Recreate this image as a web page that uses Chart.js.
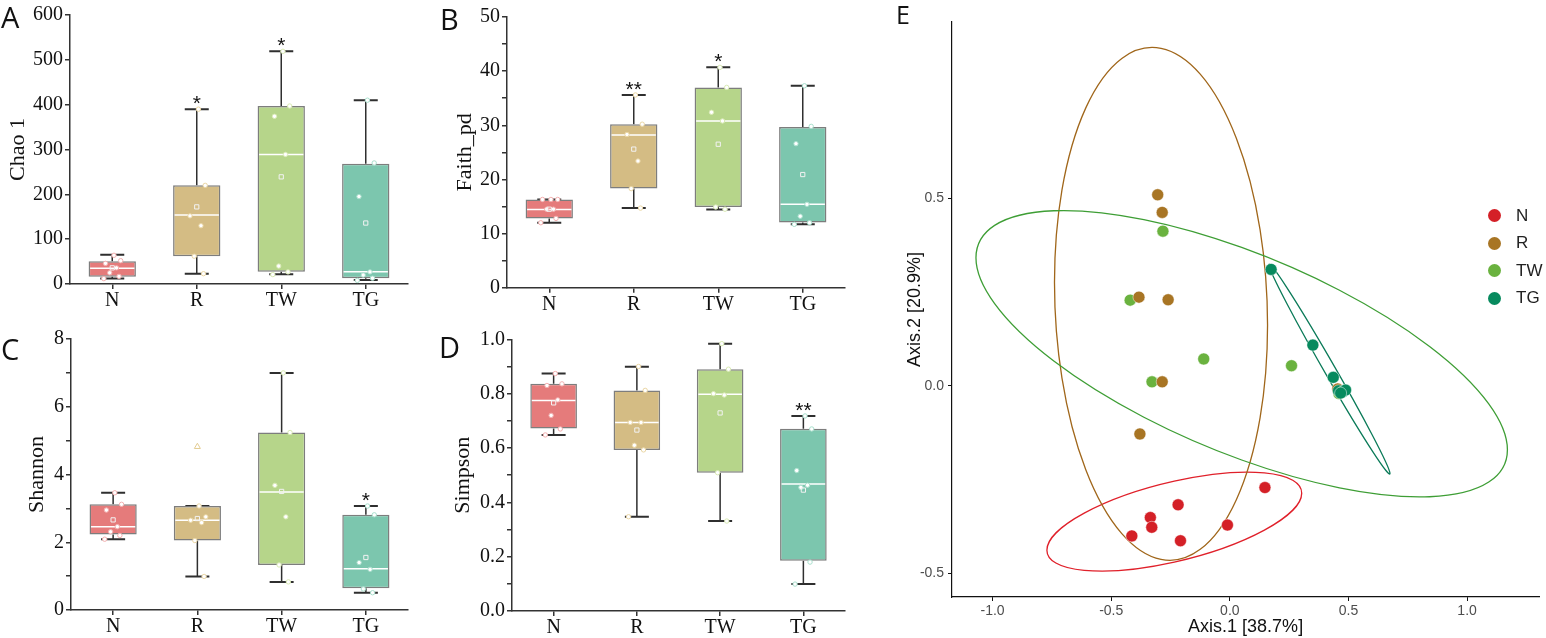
<!DOCTYPE html>
<html>
<head>
<meta charset="utf-8">
<title>Alpha diversity and PCoA</title>
<script src="https://cdn.jsdelivr.net/npm/chart.js@4.4.1/dist/chart.umd.min.js"></script>
<style>
  html, body { margin: 0; padding: 0; background: #fff; }
  body { width: 1546px; height: 638px; position: relative; overflow: hidden; }
  canvas { position: absolute; }
  .tag { position: absolute; font-family: 'Open Sans', sans-serif; font-size: 29px; line-height: 1; color: #111; }
  .legend { position: absolute; left: 1488px; top: 202px; font-family: 'Liberation Sans', Arial, sans-serif; font-size: 17px; color: #222; }
  .legend div { height: 27.5px; display: flex; align-items: center; }
  .legend .dot { width: 13px; height: 13px; border-radius: 50%; margin-right: 15px; }
</style>
</head>
<body>
<canvas id="panel-a" width="420" height="310" style="left:0;top:0"></canvas>
<canvas id="panel-b" width="430" height="310" style="left:420px;top:0"></canvas>
<canvas id="panel-c" width="420" height="328" style="left:0;top:310px"></canvas>
<canvas id="panel-d" width="430" height="328" style="left:420px;top:310px"></canvas>
<canvas id="panel-e" width="666" height="638" style="left:880px;top:0"></canvas>

<div class="tag" style="left:1px;top:2px">A</div>
<div class="tag" style="left:440px;top:4px">B</div>
<div class="tag" style="left:1px;top:334px">C</div>
<div class="tag" style="left:439px;top:332px">D</div>
<div class="tag" style="left:896px;top:2px;font-size:25px">E</div>
<div class="legend" id="legend-e"></div>

<script>
const GROUPS = ['N', 'R', 'TW', 'TG'];
const BOX_COLORS = ['#E57B7B', '#D4BC84', '#B6D58A', '#7CC6AE'];
const POINT_COLORS = ['#F3AFAF', '#EAD6A4', '#D9EAB4', '#A9DFCD'];
const JITTER = [0.02, 0.1, -0.08, 0.05, -0.03, 0.08, -0.1];

// A: Chao 1
const CHAO_MIN = [12, 23, 21.5, 9];
const CHAO_Q1 = [16, 62, 27.5, 13];
const CHAO_MEDIAN = [35, 154, 289, 27.5];
const CHAO_Q3 = [51, 220, 397, 268];
const CHAO_MAX = [65, 390, 519, 410];
const CHAO_MEAN = [36, 172, 239, 136];
const CHAO_POINTS = [
  [64, 52, 46, 36, 25, 17, 12],
  [390, 220, 152, 130, 62, 23],
  [519, 397, 374, 289, 40, 27, 21],
  [410, 270, 195, 27, 20, 13, 8],
];
const CHAO_SIG = ['', '*', '*', ''];
const CHAO_TICKS = [0, 100, 200, 300, 400, 500, 600];

// B: Faith_pd
const FAITH_MIN = [12.0, 14.7, 14.45, 11.7];
const FAITH_Q1 = [12.8, 18.3, 14.9, 12.05];
const FAITH_MEDIAN = [14.45, 28.2, 30.8, 15.4];
const FAITH_Q3 = [16.3, 30.2, 37.0, 29.7];
const FAITH_MAX = [16.3, 35.6, 40.7, 37.3];
const FAITH_MEAN = [14.5, 25.6, 26.5, 20.9];
const FAITH_POINTS = [
  [16.3, 16.3, 16.3, 14.5, 14.5, 12.8, 12.0],
  [35.6, 30.2, 28.3, 23.4, 18.3, 14.7],
  [40.7, 37.0, 32.4, 30.8, 14.9, 14.5],
  [37.3, 29.8, 26.6, 15.4, 13.2, 12.0, 11.7],
];
const FAITH_SIG = ['', '**', '*', ''];
const FAITH_TICKS = [0, 10, 20, 30, 40, 50];

// C: Shannon
const SHANNON_MIN = [2.09, 0.99, 0.83, 0.51];
const SHANNON_Q1 = [2.23, 2.05, 1.33, 0.64];
const SHANNON_MEDIAN = [2.46, 2.65, 3.48, 1.22];
const SHANNON_Q3 = [3.12, 3.07, 5.24, 2.81];
const SHANNON_MAX = [3.46, 3.07, 7.0, 3.07];
const SHANNON_MEAN = [2.66, 2.7, 3.5, 1.55];
const SHANNON_POINTS = [
  [3.46, 3.12, 2.95, 2.46, 2.31, 2.2, 2.09],
  [3.07, 2.75, 2.65, 2.58, 2.05, 0.99],
  [7.0, 5.24, 3.68, 2.75, 1.33, 0.83],
  [3.07, 2.81, 1.4, 1.2, 0.62, 0.51],
];
const SHANNON_OUTLIERS = [null, 4.82, null, null];
const SHANNON_SIG = ['', '', '', '*'];
const SHANNON_TICKS = [0, 2, 4, 6, 8];

// D: Simpson
const SIMPSON_MIN = [0.648, 0.347, 0.331, 0.099];
const SIMPSON_Q1 = [0.672, 0.593, 0.509, 0.185];
const SIMPSON_MEDIAN = [0.775, 0.694, 0.798, 0.467];
const SIMPSON_Q3 = [0.836, 0.812, 0.89, 0.671];
const SIMPSON_MAX = [0.874, 0.899, 0.984, 0.718];
const SIMPSON_MEAN = [0.766, 0.666, 0.729, 0.445];
const SIMPSON_POINTS = [
  [0.874, 0.836, 0.83, 0.777, 0.72, 0.67, 0.648],
  [0.9, 0.812, 0.694, 0.694, 0.61, 0.593, 0.347],
  [0.984, 0.89, 0.8, 0.795, 0.509, 0.331],
  [0.718, 0.67, 0.517, 0.463, 0.455, 0.18, 0.099],
];
const SIMPSON_SIG = ['', '', '', '**'];
const SIMPSON_TICKS = [0, 0.2, 0.4, 0.6, 0.8, 1.0];

// E: PCoA
const PCOA_N = [[0.148, -0.271], [-0.218, -0.317], [-0.335, -0.351], [-0.329, -0.377], [-0.413, -0.4], [-0.208, -0.413], [-0.01, -0.371]];
const PCOA_R = [[-0.304, 0.51], [-0.285, 0.463], [-0.383, 0.237], [-0.26, 0.23], [-0.285, 0.011], [-0.379, -0.128], [0.455, -0.008]];
const PCOA_TW = [[-0.282, 0.413], [-0.42, 0.229], [-0.11, 0.072], [0.26, 0.054], [-0.328, 0.011], [0.46, -0.02]];
const PCOA_TG = [[0.174, 0.311], [0.35, 0.109], [0.436, 0.023], [0.458, -0.013], [0.475, -0.016], [0.488, -0.011], [0.467, -0.019]];
const PCOA_COLORS = ['#D42027', '#A87524', '#6AB23F', '#078A5E'];
const ELLIPSE_COLORS = ['#E0202A', '#A0661A', '#3E9E35', '#0A7A58'];
const ELLIPSE_CX = [-0.234, -0.29, 0.05, 0.42];
const ELLIPSE_CY = [-0.362, 0.219, 0.086, 0.045];
const ELLIPSE_HALF_W = [0.537, 0.449, 1.12, 0.255];
const ELLIPSE_HALF_H = [0.132, 0.684, 0.382, 0.28];
const ELLIPSE_RIGHT_Y = [0.076, -0.057, -0.256, -0.2784];
const PCOA_X_TICKS = [-1.0, -0.5, 0.0, 0.5, 1.0];
const PCOA_Y_TICKS = [-0.5, 0.0, 0.5];

const SERIF = "'Liberation Serif', 'Times New Roman', serif";
const SANS = "'Liberation Sans', Arial, sans-serif";
const AXIS_COLOR = '#333333';
const CAP_HALF = 12;

Chart.defaults.font.family = SERIF;
Chart.defaults.color = '#111';
Chart.defaults.animation = false;

function ticksWithMinor(majors) {
  const ticks = [];
  majors.forEach((v, i) => {
    ticks.push({ value: v });
    if (i < majors.length - 1) ticks.push({ value: (v + majors[i + 1]) / 2 });
  });
  return ticks;
}

function boxExtras(stats) {
  return {
    id: 'boxExtras',
    beforeDatasetsDraw(chart) {
      const { ctx, scales: { x, y } } = chart;
      ctx.save();
      ctx.strokeStyle = '#2f2f2f';
      GROUPS.forEach((_, g) => {
        const cx = x.getPixelForValue(g);
        const top = y.getPixelForValue(stats.max[g]);
        const bottom = y.getPixelForValue(stats.min[g]);
        ctx.lineWidth = 1.5;
        ctx.beginPath();
        ctx.moveTo(cx, top);
        ctx.lineTo(cx, y.getPixelForValue(stats.q3[g]));
        ctx.moveTo(cx, y.getPixelForValue(stats.q1[g]));
        ctx.lineTo(cx, bottom);
        ctx.stroke();
        ctx.lineWidth = 2;
        ctx.beginPath();
        ctx.moveTo(cx - CAP_HALF, top);
        ctx.lineTo(cx + CAP_HALF, top);
        ctx.moveTo(cx - CAP_HALF, bottom);
        ctx.lineTo(cx + CAP_HALF, bottom);
        ctx.stroke();
      });
      ctx.restore();
    },
    afterDatasetDraw(chart, args) {
      if (args.index !== 0) return;
      const { ctx, scales: { y } } = chart;
      ctx.save();
      ctx.strokeStyle = '#ffffff';
      ctx.lineWidth = 1.5;
      chart.getDatasetMeta(0).data.forEach((bar, g) => {
        const half = bar.width / 2 - 1.5;
        const py = y.getPixelForValue(stats.median[g]);
        ctx.beginPath();
        ctx.moveTo(bar.x - half, py);
        ctx.lineTo(bar.x + half, py);
        ctx.stroke();
      });
      ctx.restore();
    },
    afterDraw(chart) {
      const { ctx, scales: { x, y } } = chart;
      ctx.save();
      ctx.fillStyle = '#111';
      ctx.font = `21px ${SANS}`;
      ctx.textAlign = 'center';
      ctx.textBaseline = 'alphabetic';
      stats.sig.forEach((label, g) => {
        if (!label) return;
        ctx.fillText(label, x.getPixelForValue(g), y.getPixelForValue(stats.max[g]) + 1);
      });
      ctx.restore();
    },
  };
}

function boxPanel(canvasId, s) {
  const pointData = [];
  const pointBorders = [];
  s.points.forEach((vals, g) => {
    vals.forEach((v, k) => {
      pointData.push({ x: g + JITTER[k % JITTER.length], y: v });
      pointBorders.push(POINT_COLORS[g]);
    });
  });
  const datasets = [
    {
      type: 'bar',
      data: GROUPS.map((_, g) => ({ x: g, y: [s.q1[g], s.q3[g]] })),
      backgroundColor: BOX_COLORS,
      borderColor: '#7d7d7d',
      borderWidth: 1.5,
      borderSkipped: false,
      categoryPercentage: 1,
      barPercentage: 0.56,
      order: 3,
    },
    {
      type: 'scatter',
      data: pointData,
      pointRadius: 2.2,
      backgroundColor: '#ffffff',
      borderColor: pointBorders,
      borderWidth: 1,
      order: 1,
    },
    {
      type: 'scatter',
      data: s.mean.map((v, g) => ({ x: g, y: v })),
      pointStyle: 'rect',
      pointRadius: 3,
      backgroundColor: 'rgba(0,0,0,0)',
      borderColor: '#f2f2f2',
      borderWidth: 1,
      order: 0,
    },
  ];
  if (s.outliers) {
    datasets.push({
      type: 'scatter',
      data: s.outliers.map((v, g) => (v === null ? null : { x: g, y: v })).filter(Boolean),
      pointStyle: 'triangle',
      pointRadius: 3.5,
      backgroundColor: 'rgba(0,0,0,0)',
      borderColor: '#E3CC92',
      borderWidth: 1,
      order: 0,
    });
  }

  const yMin = s.ticks[0];
  const yMax = s.ticks[s.ticks.length - 1];

  return new Chart(document.getElementById(canvasId), {
    type: 'bar',
    data: { datasets },
    options: {
      responsive: false,
      events: [],
      layout: { padding: { left: 0, top: s.top, right: s.right, bottom: 0 } },
      plugins: { legend: { display: false }, tooltip: { enabled: false } },
      scales: {
        x: {
          type: 'linear',
          min: -0.5,
          max: 3.5,
          offset: false,
          afterBuildTicks: (scale) => { scale.ticks = GROUPS.map((_, g) => ({ value: g })); },
          afterFit: (scale) => { scale.height = s.xHeight; },
          ticks: {
            callback: (v) => GROUPS[v],
            font: { family: SERIF, size: 20 },
            color: '#111',
            padding: s.xPad,
            maxRotation: 0,
          },
          grid: { offset: false, drawOnChartArea: false, tickLength: 5, color: AXIS_COLOR, lineWidth: 1.5 },
          border: { display: true, color: AXIS_COLOR, width: 1.5 },
        },
        y: {
          type: 'linear',
          min: yMin,
          max: yMax,
          afterBuildTicks: (scale) => { scale.ticks = ticksWithMinor(s.ticks); },
          afterFit: (scale) => { scale.width = s.yWidth; },
          ticks: {
            callback: (v, i) => (i % 2 === 0 ? v.toFixed(s.decimals) : ''),
            font: { family: SERIF, size: 20 },
            color: '#111',
            padding: 2,
          },
          grid: { drawOnChartArea: false, tickLength: 5, color: AXIS_COLOR, lineWidth: 1.5 },
          border: { display: true, color: AXIS_COLOR, width: 1.5 },
          title: {
            display: true,
            text: s.title,
            font: { family: SERIF, size: 22 },
            color: '#111',
            padding: { top: s.titlePad, bottom: 0 },
          },
        },
      },
    },
    plugins: [boxExtras(s)],
  });
}

boxPanel('panel-a', {
  title: 'Chao 1', min: CHAO_MIN, q1: CHAO_Q1, median: CHAO_MEDIAN, q3: CHAO_Q3, max: CHAO_MAX,
  mean: CHAO_MEAN, points: CHAO_POINTS, sig: CHAO_SIG, ticks: CHAO_TICKS, decimals: 0,
  top: 15, right: 12, yWidth: 70, xHeight: 26, xPad: 0, titlePad: 5,
});
boxPanel('panel-b', {
  title: 'Faith_pd', min: FAITH_MIN, q1: FAITH_Q1, median: FAITH_MEDIAN, q3: FAITH_Q3, max: FAITH_MAX,
  mean: FAITH_MEAN, points: FAITH_POINTS, sig: FAITH_SIG, ticks: FAITH_TICKS, decimals: 0,
  top: 17, right: 5, yWidth: 87, xHeight: 22.3, xPad: 0, titlePad: 32,
});
boxPanel('panel-c', {
  title: 'Shannon', min: SHANNON_MIN, q1: SHANNON_Q1, median: SHANNON_MEDIAN, q3: SHANNON_Q3, max: SHANNON_MAX,
  mean: SHANNON_MEAN, points: SHANNON_POINTS, sig: SHANNON_SIG, ticks: SHANNON_TICKS, decimals: 0,
  outliers: SHANNON_OUTLIERS,
  top: 29, right: 12, yWidth: 71, xHeight: 28, xPad: 0, titlePad: 24,
});
boxPanel('panel-d', {
  title: 'Simpson', min: SIMPSON_MIN, q1: SIMPSON_Q1, median: SIMPSON_MEDIAN, q3: SIMPSON_Q3, max: SIMPSON_MAX,
  mean: SIMPSON_MEAN, points: SIMPSON_POINTS, sig: SIMPSON_SIG, ticks: SIMPSON_TICKS, decimals: 1,
  top: 29.3, right: 2, yWidth: 92, xHeight: 27, xPad: 0, titlePad: 30,
});

// PCoA ellipses, drawn in data space through the chart scales
const ellipsePlugin = {
  id: 'ellipses',
  beforeDatasetsDraw(chart) {
    const { ctx, scales: { x, y } } = chart;
    const sx = x.getPixelForValue(1) - x.getPixelForValue(0);
    const sy = y.getPixelForValue(0) - y.getPixelForValue(1);
    ELLIPSE_CX.forEach((cx, g) => {
      const hw = ELLIPSE_HALF_W[g];
      const hh = ELLIPSE_HALF_H[g];
      const ry = ELLIPSE_RIGHT_Y[g];
      const k = Math.sqrt(Math.max(hh * hh - ry * ry, 0));
      ctx.save();
      ctx.beginPath();
      ctx.save();
      ctx.transform(sx * hw, -sy * ry, 0, -sy * k, x.getPixelForValue(cx), y.getPixelForValue(ELLIPSE_CY[g]));
      ctx.arc(0, 0, 1, 0, Math.PI * 2);
      ctx.restore();
      ctx.strokeStyle = ELLIPSE_COLORS[g];
      ctx.lineWidth = 1.3;
      ctx.stroke();
      ctx.restore();
    });
  },
};

const pcoaSets = [PCOA_N, PCOA_R, PCOA_TW, PCOA_TG];
const pcoaOrder = [3, 1, 2, 0];

new Chart(document.getElementById('panel-e'), {
  type: 'scatter',
  data: {
    datasets: pcoaSets.map((pts, g) => ({
      label: GROUPS[g],
      data: pts.map(([px, py]) => ({ x: px, y: py })),
      backgroundColor: PCOA_COLORS[g],
      borderColor: 'rgba(255,255,255,0.6)',
      borderWidth: 0.8,
      pointRadius: 6,
      order: pcoaOrder[g],
    })),
  },
  options: {
    responsive: false,
    events: [],
    layout: { padding: { left: 0, top: 22, right: 0, bottom: 0 } },
    plugins: { legend: { display: false }, tooltip: { enabled: false } },
    scales: {
      x: {
        type: 'linear',
        min: -1.171,
        max: 1.304,
        afterBuildTicks: (scale) => { scale.ticks = PCOA_X_TICKS.map((v) => ({ value: v })); },
        afterFit: (scale) => { scale.height = 41; },
        ticks: { callback: (v) => v.toFixed(1), font: { family: SANS, size: 14 }, color: '#4d4d4d', padding: 2, maxRotation: 0 },
        grid: { drawOnChartArea: false, tickLength: 4, color: '#111', lineWidth: 1 },
        border: { display: true, color: '#111', width: 1.2 },
        title: { display: true, text: 'Axis.1 [38.7%]', font: { family: SANS, size: 18 }, color: '#111', padding: { top: 0, bottom: 0 } },
      },
      y: {
        type: 'linear',
        min: -0.563,
        max: 0.971,
        afterBuildTicks: (scale) => { scale.ticks = PCOA_Y_TICKS.map((v) => ({ value: v })); },
        afterFit: (scale) => { scale.width = 72; },
        ticks: { callback: (v) => v.toFixed(1), font: { family: SANS, size: 14 }, color: '#4d4d4d', padding: 4 },
        grid: { drawOnChartArea: false, tickLength: 4, color: '#111', lineWidth: 1 },
        border: { display: true, color: '#111', width: 1.2 },
        title: { display: true, text: 'Axis.2 [20.9%]', font: { family: SANS, size: 18 }, color: '#111', padding: { top: 24, bottom: 0 } },
      },
    },
  },
  plugins: [ellipsePlugin],
});

const legendBox = document.getElementById('legend-e');
GROUPS.forEach((name, g) => {
  const row = document.createElement('div');
  const dot = document.createElement('span');
  dot.className = 'dot';
  dot.style.background = PCOA_COLORS[g];
  row.appendChild(dot);
  row.appendChild(document.createTextNode(name));
  legendBox.appendChild(row);
});
</script>
</body>
</html>
